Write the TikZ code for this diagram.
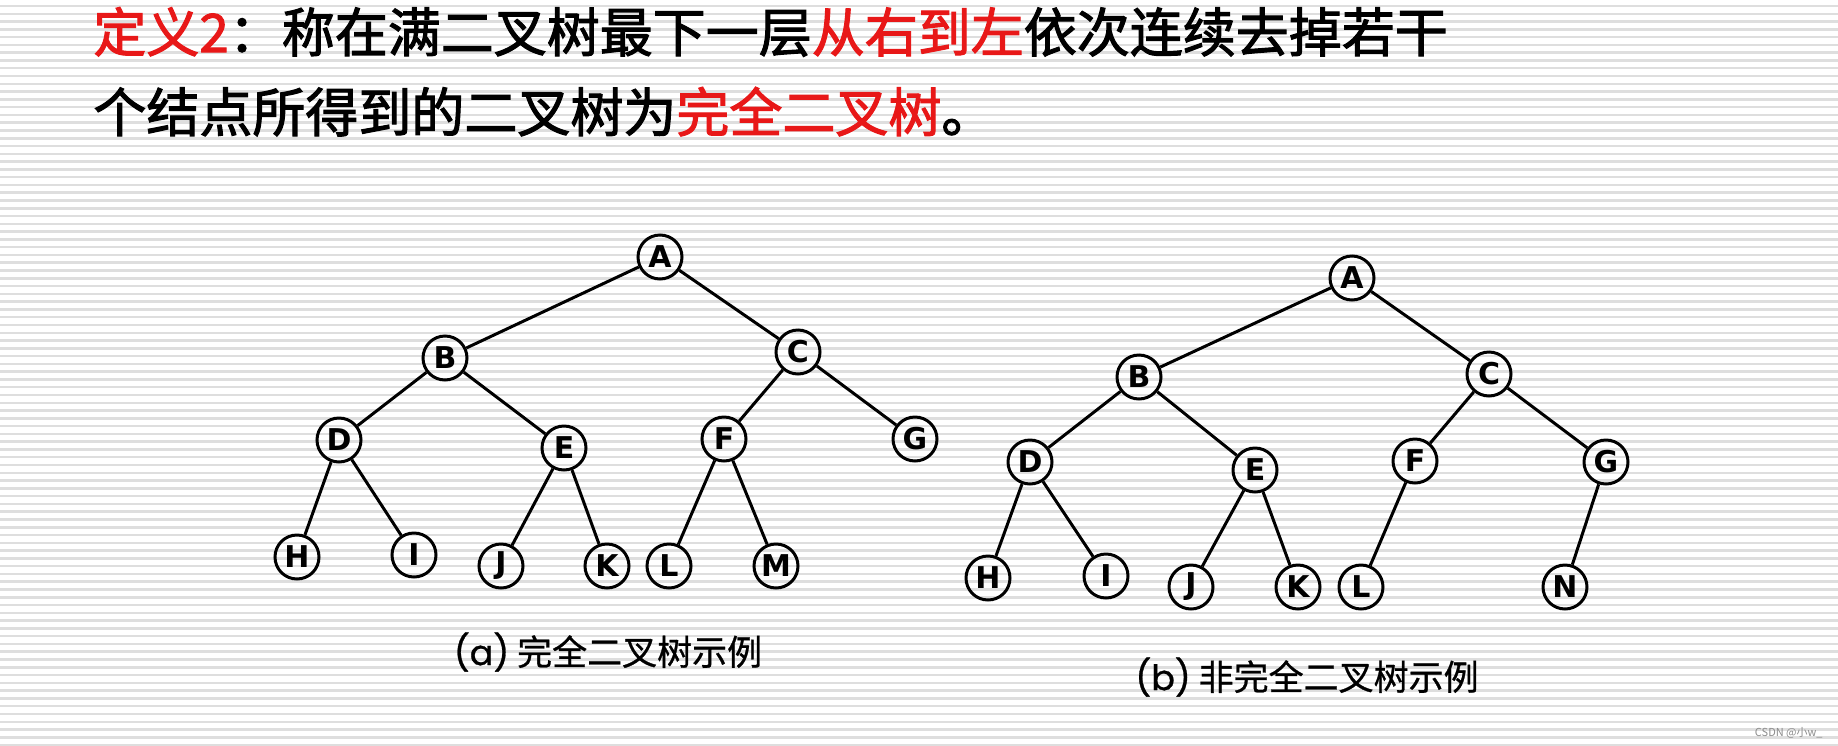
\documentclass[tikz,border=0pt]{standalone}
\usepackage{fontspec}
\newfontfamily\cjk{Noto Sans CJK SC}
\newfontfamily\cjkmed[FakeBold=2]{Noto Sans CJK SC}
\newfontfamily\cjkcap[FakeBold=0.8]{Noto Sans CJK SC}
\newfontfamily\nodefont{DejaVu Sans}
\newfontfamily\latinf[FakeBold=0.8]{Poppins}
\definecolor{tred}{RGB}{232,24,24}
\definecolor{stripegray}{RGB}{222,222,222}
\definecolor{wmgray}{RGB}{140,140,140}
\begin{document}
\begin{tikzpicture}[x=0.5pt,y=-0.5pt,
  tn/.style={circle,draw,line width=1.5pt,minimum size=22pt,inner sep=0pt,
    font=\nodefont\bfseries\fontsize{15pt}{15pt}\selectfont},
  edge/.style={line width=1.5pt},
  stripe/.style={draw=stripegray,line width=1.25pt},
  titletext/.style={anchor=base west,inner sep=0pt,
    font=\cjkmed\fontsize{26.5pt}{26.5pt}\selectfont},
  captext/.style={inner sep=0pt,font=\cjkcap\fontsize{17.5pt}{17.5pt}\selectfont}]
\useasboundingbox (0,0) rectangle (1838,745);
\fill[white] (0,0) rectangle (1838,745);
\foreach \k in {0,...,95} \draw[stripe] (0,{6+7.78*\k}) -- (1838,{6+7.78*\k});

% title
\node[titletext] (t1) at (93,52) {\textcolor{tred}{定义2}：称在满二叉树最下一层\textcolor{tred}{从右到左}依次连续去掉若干};
\node[titletext] (t2) at (93,132) {个结点所得到的二叉树为\textcolor{tred}{完全二叉树}。};

% tree (a)
\node[tn] (aA) at (660,257) {A};
\node[tn] (aB) at (445,358) {B};
\node[tn] (aC) at (798,352) {C};
\node[tn] (aD) at (339,440) {D};
\node[tn] (aE) at (564,448) {E};
\node[tn] (aF) at (724,439) {F};
\node[tn] (aG) at (915,439) {G};
\node[tn] (aH) at (297,557) {H};
\node[tn] (aI) at (414,555) {I};
\node[tn] (aJ) at (501,566) {J};
\node[tn] (aK) at (607,566) {K};
\node[tn] (aL) at (669,566) {L};
\node[tn] (aM) at (776,566) {M};
\foreach \p/\c in {aA/aB,aA/aC,aB/aD,aB/aE,aC/aF,aC/aG,aD/aH,aD/aI,aE/aJ,aE/aK,aF/aL,aF/aM}
  \draw[edge] (\p) -- (\c);

% tree (b)
\node[tn] (bA) at (1352,278) {A};
\node[tn] (bB) at (1139,377) {B};
\node[tn] (bC) at (1489,374) {C};
\node[tn] (bD) at (1030,462) {D};
\node[tn] (bE) at (1255,470) {E};
\node[tn] (bF) at (1415,461) {F};
\node[tn] (bG) at (1606,462) {G};
\node[tn] (bH) at (988,578) {H};
\node[tn] (bI) at (1106,576) {I};
\node[tn] (bJ) at (1191,587) {J};
\node[tn] (bK) at (1298,587) {K};
\node[tn] (bL) at (1361,587) {L};
\node[tn] (bN) at (1565,587) {N};
\foreach \p/\c in {bA/bB,bA/bC,bB/bD,bB/bE,bC/bF,bC/bG,bD/bH,bD/bI,bE/bJ,bE/bK,bF/bL,bG/bN}
  \draw[edge] (\p) -- (\c);

% captions
\node[captext] (capa) at (608,652) {{\latinf (a)} 完全二叉树示例};
\node[captext] (capb) at (1307,677) {{\latinf (b)} 非完全二叉树示例};

% watermark
\node[anchor=east,inner sep=0pt,text=wmgray,font=\cjk\fontsize{5.5pt}{5.5pt}\selectfont] (wm) at (1823,733) {CSDN @小w\_};
\end{tikzpicture}
\end{document}
